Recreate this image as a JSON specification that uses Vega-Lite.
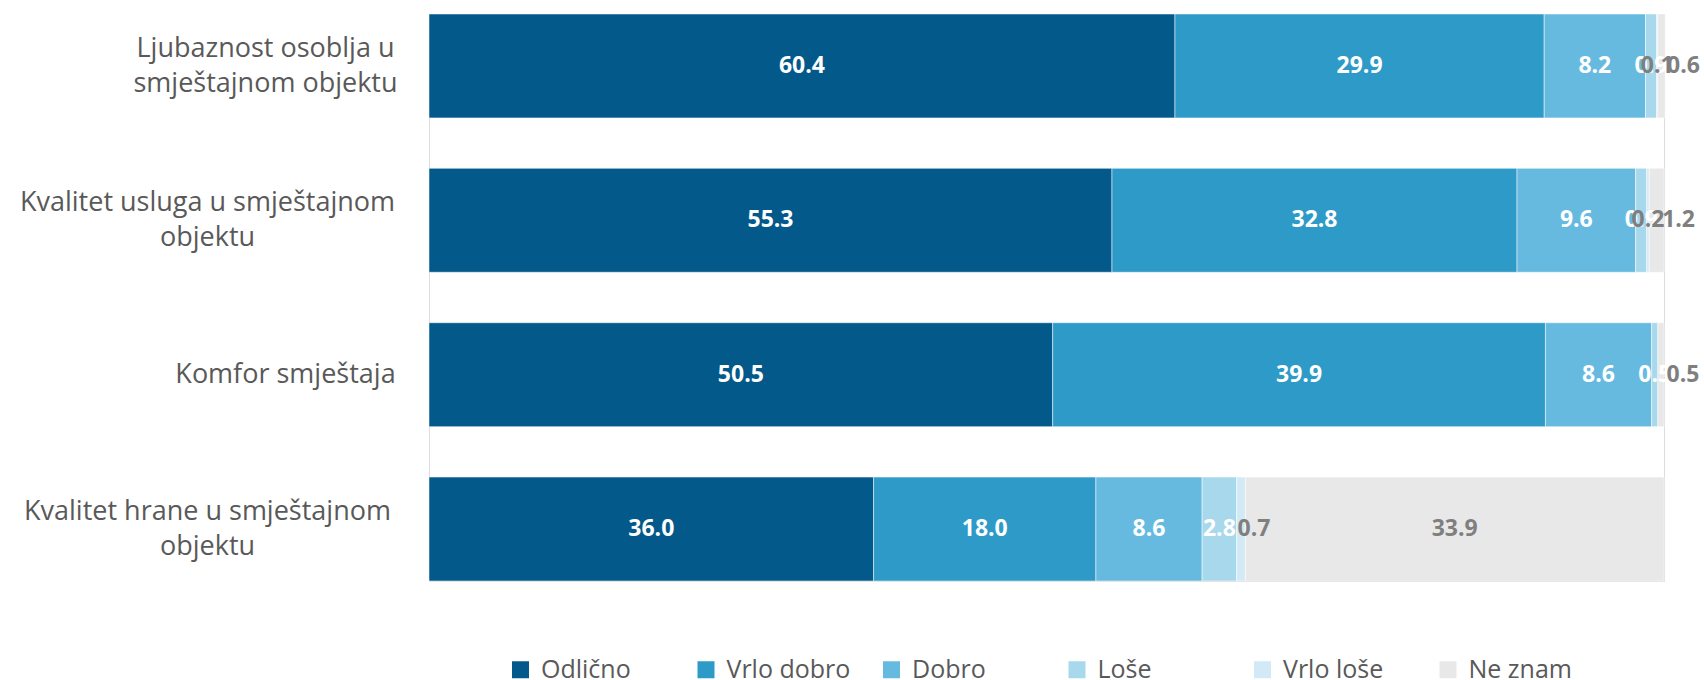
{
  "$schema": "https://vega.github.io/schema/vega-lite/v6.json",
  "autosize": {"type": "none"},
  "width": 1235,
  "height": 567,
  "padding": {"left": 429, "top": 14, "right": 40, "bottom": 99},
  "background": "white",
  "data": {
    "values": [
      {"cat": "Ljubaznost osoblja u|smještajnom objektu", "rating": "Odlično", "idx": 0, "value": 60.4},
      {"cat": "Ljubaznost osoblja u|smještajnom objektu", "rating": "Vrlo dobro", "idx": 1, "value": 29.9},
      {"cat": "Ljubaznost osoblja u|smještajnom objektu", "rating": "Dobro", "idx": 2, "value": 8.2},
      {"cat": "Ljubaznost osoblja u|smještajnom objektu", "rating": "Loše", "idx": 3, "value": 0.9},
      {"cat": "Ljubaznost osoblja u|smještajnom objektu", "rating": "Vrlo loše", "idx": 4, "value": 0.1},
      {"cat": "Ljubaznost osoblja u|smještajnom objektu", "rating": "Ne znam", "idx": 5, "value": 0.6},
      {"cat": "Kvalitet usluga u smještajnom|objektu", "rating": "Odlično", "idx": 0, "value": 55.3},
      {"cat": "Kvalitet usluga u smještajnom|objektu", "rating": "Vrlo dobro", "idx": 1, "value": 32.8},
      {"cat": "Kvalitet usluga u smještajnom|objektu", "rating": "Dobro", "idx": 2, "value": 9.6},
      {"cat": "Kvalitet usluga u smještajnom|objektu", "rating": "Loše", "idx": 3, "value": 0.9},
      {"cat": "Kvalitet usluga u smještajnom|objektu", "rating": "Vrlo loše", "idx": 4, "value": 0.2},
      {"cat": "Kvalitet usluga u smještajnom|objektu", "rating": "Ne znam", "idx": 5, "value": 1.2},
      {"cat": "Komfor smještaja", "rating": "Odlično", "idx": 0, "value": 50.5},
      {"cat": "Komfor smještaja", "rating": "Vrlo dobro", "idx": 1, "value": 39.9},
      {"cat": "Komfor smještaja", "rating": "Dobro", "idx": 2, "value": 8.6},
      {"cat": "Komfor smještaja", "rating": "Loše", "idx": 3, "value": 0.5},
      {"cat": "Komfor smještaja", "rating": "Ne znam", "idx": 5, "value": 0.5},
      {"cat": "Kvalitet hrane u smještajnom|objektu", "rating": "Odlično", "idx": 0, "value": 36.0},
      {"cat": "Kvalitet hrane u smještajnom|objektu", "rating": "Vrlo dobro", "idx": 1, "value": 18.0},
      {"cat": "Kvalitet hrane u smještajnom|objektu", "rating": "Dobro", "idx": 2, "value": 8.6},
      {"cat": "Kvalitet hrane u smještajnom|objektu", "rating": "Loše", "idx": 3, "value": 2.8},
      {"cat": "Kvalitet hrane u smještajnom|objektu", "rating": "Vrlo loše", "idx": 4, "value": 0.7},
      {"cat": "Kvalitet hrane u smještajnom|objektu", "rating": "Ne znam", "idx": 5, "value": 33.9}
    ]
  },
  "encoding": {
    "y": {
      "field": "cat",
      "type": "nominal",
      "sort": null,
      "scale": {"paddingInner": 0.327, "paddingOuter": 0},
      "axis": {
        "title": null,
        "domain": false,
        "ticks": false,
        "labelPadding": {
          "condition": [
            {"test": "datum.value == 'Komfor smještaja'", "value": 144},
            {"test": "datum.value == 'Ljubaznost osoblja u|smještajnom objektu'", "value": 164}
          ],
          "value": 222
        },
        "labelOffset": {
          "condition": {"test": "datum.value == 'Komfor smještaja'", "value": 0},
          "value": -17
        },
        "labelAlign": "center",
        "labelBaseline": "middle",
        "labelFont": "Open Sans",
        "labelFontSize": 27,
        "labelColor": "#595959",
        "labelLineHeight": 35,
        "labelLimit": 500,
        "labelExpr": "split(datum.label, '|')"
      }
    },
    "x": {
      "field": "value",
      "type": "quantitative",
      "stack": "zero",
      "scale": {"domain": [0, 100], "nice": false},
      "axis": null
    },
    "order": {"field": "idx", "type": "quantitative"}
  },
  "layer": [
    {
      "mark": {"type": "bar", "stroke": "white", "strokeWidth": 0.5},
      "encoding": {
        "color": {
          "field": "rating",
          "type": "nominal",
          "scale": {
            "domain": ["Odlično", "Vrlo dobro", "Dobro", "Loše", "Vrlo loše", "Ne znam"],
            "range": ["#03598A", "#2E9AC8", "#67BADF", "#A8D8EC", "#D2EAF5", "#E8E8E8"]
          },
          "legend": {
            "title": null,
            "orient": "none",
            "legendX": 79,
            "legendY": 643,
            "direction": "horizontal",
            "columns": 6,
            "symbolType": "square",
            "symbolSize": 289,
            "symbolStrokeWidth": 0,
            "labelFont": "Open Sans",
            "labelFontSize": 25,
            "labelColor": "#595959",
            "labelOffset": 8,
            "gridAlign": "all",
            "columnPadding": 28.5,
            "labelLimit": 300
          }
        }
      }
    },
    {
      "mark": {
        "type": "text",
        "font": "Open Sans",
        "fontWeight": "bold",
        "fontSize": 23,
        "align": "center",
        "baseline": "middle",
        "dx": {"expr": "datum.idx == 5 && datum.value < 2 ? 22 : (datum.idx == 4 && datum.value > 0.5 ? 13 : 0)"}
      },
      "encoding": {
        "x": {"field": "value", "type": "quantitative", "stack": "zero", "bandPosition": 0.5},
        "text": {"field": "value", "type": "quantitative", "format": ".1f"},
        "color": {"condition": {"test": "datum.idx >= 4", "value": "#7F7F7F"}, "value": "white"}
      }
    }
  ]
}
